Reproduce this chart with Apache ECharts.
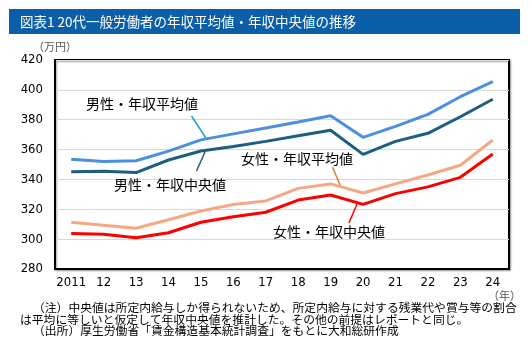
<!DOCTYPE html>
<html><head><meta charset="utf-8">
<script src="https://cdn.jsdelivr.net/npm/echarts@6/dist/echarts.min.js"></script>
<style>html,body{margin:0;padding:0;background:#fff}#c{width:530px;height:361px}</style>
</head><body><div id="c"></div>
<script>
const years = ['2011','12','13','14','15','16','17','18','19','20','21','22','23','24'];
const maleAvg    = [353.5,352,352.5,359,366.5,370.5,374.5,378.5,382.7,368.2,375.5,383.6,395.4,405.5];
const maleMedian = [345.2,345.5,344.6,353,359,362,365.5,369.2,372.9,356.8,365.5,370.9,382,393.7];
const femaleAvg  = [311.3,309.3,307.3,313,318.9,323.2,325.6,334,337,330.9,337,343,349.5,366.4];
const femaleMedian=[303.7,303.2,301,304.3,311.3,315,318,326.2,329.6,323.3,330.5,335,341.4,357];
const yTicks = [280,300,320,340,360,380,400,420];
const seriesNames = ['男性・年収平均値','男性・年収中央値','女性・年収平均値','女性・年収中央値'];
const titleText = '図表1 20代一般労働者の年収平均値・年収中央値の推移';
const notes = [
 '（注）中央値は所定内給与しか得られないため、所定内給与に対する残業代や賞与等の割合',
 'は平均に等しいと仮定して年収中央値を推計した。その他の前提はレポートと同じ。',
 '（出所）厚生労働省「賃金構造基本統計調査」をもとに大和総研作成'
];
const JP = '"Noto Sans CJK JP", sans-serif';
const NUM = '"Liberation Sans Narrow", "DejaVu Sans Condensed", sans-serif';
const chart = echarts.init(document.getElementById('c'), null, {renderer:'canvas'});
function lineSeries(name, data, color){
  return {name, type:'line', data, symbol:'none', smooth:false,
    lineStyle:{color, width:3}, itemStyle:{color}, z:3};
}
chart.setOption({
  animation:false,
  grid:{left:55, right:21, top:60, bottom:92, show:true, borderColor:'#000', borderWidth:2,
        shadowColor:'rgba(0,0,0,0.35)', shadowBlur:2, shadowOffsetX:1, shadowOffsetY:1, backgroundColor:'#fff'},
  xAxis:{type:'category', data:years, boundaryGap:true,
    axisLine:{show:true, lineStyle:{color:'#000', width:2}}, axisTick:{show:false},
    axisLabel:{color:'#000', fontSize:13, fontFamily:NUM, margin:7, interval:0}},
  yAxis:{type:'value', min:280, max:420, interval:20,
    axisLine:{show:true, lineStyle:{color:'#000', width:2}}, axisTick:{show:false},
    axisLabel:{color:'#000', fontSize:13, fontFamily:NUM, margin:12,
      formatter: v => yTicks.includes(v) ? String(v) : ''},
    splitLine:{lineStyle:{color:'#d9d9d9', width:1}}},
  series:[
    lineSeries(seriesNames[0], maleAvg, '#4a90dc'),
    lineSeries(seriesNames[1], maleMedian, '#1c5f7e'),
    lineSeries(seriesNames[2], femaleAvg, '#f4a884'),
    lineSeries(seriesNames[3], femaleMedian, '#ff0000')
  ],
  graphic:[
    {type:'rect', shape:{x:9,y:9,width:511,height:25}, style:{fill:'#0b5ea8'}, z:10},
    {type:'text', x:20, y:21.5, style:{text:titleText, fill:'#fff', font:'13.5px '+JP, textVerticalAlign:'middle'}, z:11},
    {type:'text', x:33, y:47, style:{text:'（万円）', fill:'#555', font:'11px '+JP, textVerticalAlign:'middle'}},
    {type:'text', x:488, y:296, style:{text:'（年）', fill:'#555', font:'11px '+JP, textVerticalAlign:'middle'}},
    {type:'text', x:33, y:308, style:{text:notes[0], fill:'#000', font:'11.8px '+JP, textVerticalAlign:'middle'}},
    {type:'text', x:20, y:320, style:{text:notes[1], fill:'#000', font:'11.8px '+JP, textVerticalAlign:'middle'}},
    {type:'text', x:33, y:331, style:{text:notes[2], fill:'#000', font:'11.8px '+JP, textVerticalAlign:'middle'}},
    {type:'text', x:142, y:104, style:{text:seriesNames[0], font:'14px '+JP, fill:'#000', textAlign:'center', textVerticalAlign:'middle'}, z:20},
    {type:'line', shape:{x1:191.5,y1:116,x2:206.5,y2:139}, style:{stroke:'#1ea0dc', lineWidth:1.5}, z:20},
    {type:'text', x:170, y:185, style:{text:seriesNames[1], font:'14px '+JP, fill:'#000', textAlign:'center', textVerticalAlign:'middle'}, z:20},
    {type:'line', shape:{x1:196.5,y1:171,x2:205,y2:152}, style:{stroke:'#1c5f7e', lineWidth:1.5}, z:20},
    {type:'text', x:297, y:159, style:{text:seriesNames[2], font:'14px '+JP, fill:'#000', textAlign:'center', textVerticalAlign:'middle'}, z:20},
    {type:'line', shape:{x1:332.5,y1:167,x2:340,y2:185}, style:{stroke:'#e07a3a', lineWidth:1.5}, z:20},
    {type:'text', x:329, y:231.5, style:{text:seriesNames[3], font:'14px '+JP, fill:'#000', textAlign:'center', textVerticalAlign:'middle'}, z:20},
    {type:'line', shape:{x1:349,y1:223,x2:357,y2:204}, style:{stroke:'#ff0000', lineWidth:1.5}, z:20}
  ]
});
</script></body></html>
